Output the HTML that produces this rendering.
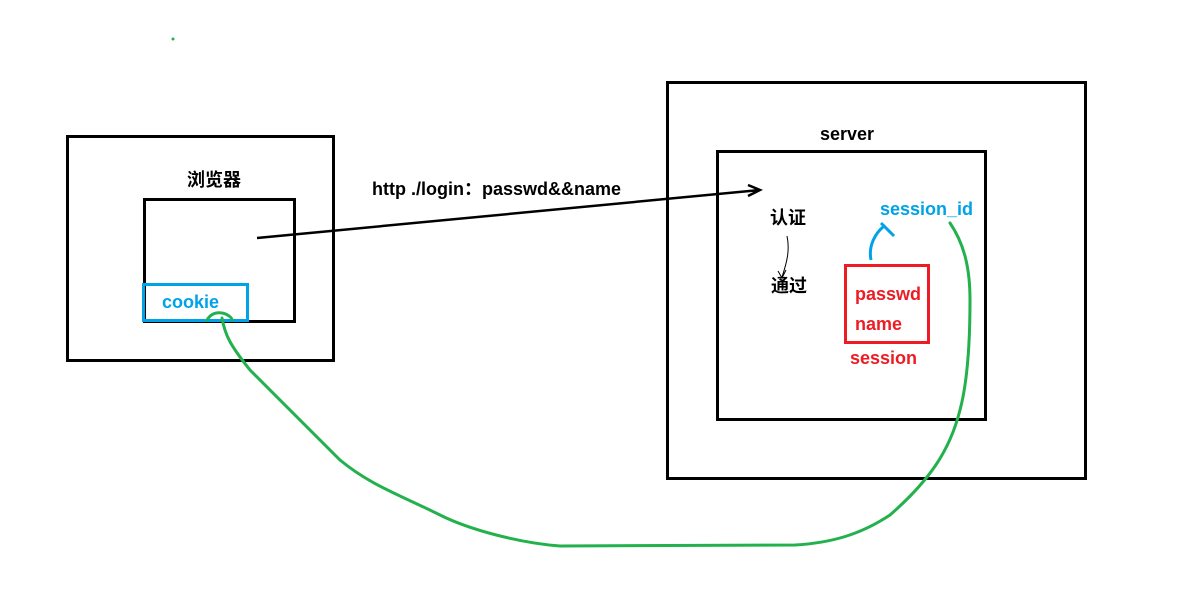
<!DOCTYPE html>
<html><head><meta charset="utf-8"><style>
html,body{margin:0;padding:0;background:#fff;}
svg{display:block;}
text{font-family:"Liberation Sans","Noto Sans CJK SC",sans-serif;font-weight:bold;font-size:18px;}
</style></head><body>
<svg width="1177" height="605" viewBox="0 0 1177 605">
<rect x="0" y="0" width="1177" height="605" fill="#fff"/>
<circle cx="173" cy="39" r="1.5" fill="#22b14c"/>
<g fill="none" stroke="#000" stroke-width="3">
<rect x="67.5" y="136.5" width="266" height="224"/>
<rect x="144.5" y="199.5" width="150" height="122"/>
<rect x="667.5" y="82.5" width="418" height="396"/>
<rect x="717.5" y="151.5" width="268" height="268"/>
</g>
<rect x="143.5" y="284.5" width="104" height="36" fill="none" stroke="#00a2e8" stroke-width="3"/>
<rect x="845.5" y="265.5" width="83" height="77" fill="none" stroke="#ed1c24" stroke-width="3"/>
<path d="M257 238 L760 190 M748 185 L760 190 L748 196" fill="none" stroke="#000" stroke-width="2.5"/>
<path d="M787 236 C790 250 787 262 782 277 M778 271 L782 278 L786 270" fill="none" stroke="#000" stroke-width="1"/>
<path d="M871 260 C868 245 876 233 883 227 M881 223 L884 226 L894 236" fill="none" stroke="#00a2e8" stroke-width="3"/>
<path d="M950 223 C965 245 970 270 970 300 C970 340 968 380 960 410 C950 450 930 480 890 515 C860 535 830 543 795 545 L560 546 C520 543 470 530 440 515 C400 495 370 485 340 460 C300 420 280 400 250 370 C230 345 225 335 222 318 M207 320 C210 315 215 312 222 313 C228 314 232 318 232 320" fill="none" stroke="#22b14c" stroke-width="3" stroke-linecap="round"/>
<text x="187" y="186">浏览器</text>
<text x="372" y="195">http ./login：passwd&amp;&amp;name</text>
<text x="820" y="140">server</text>
<text x="770" y="224">认证</text>
<text x="771" y="292">通过</text>
<text x="880" y="215" fill="#00a2e8">session_id</text>
<text x="855" y="300" fill="#ed1c24">passwd</text>
<text x="855" y="330" fill="#ed1c24">name</text>
<text x="850" y="364" fill="#ed1c24">session</text>
<text x="162" y="308" fill="#00a2e8">cookie</text>
</svg>
</body></html>
